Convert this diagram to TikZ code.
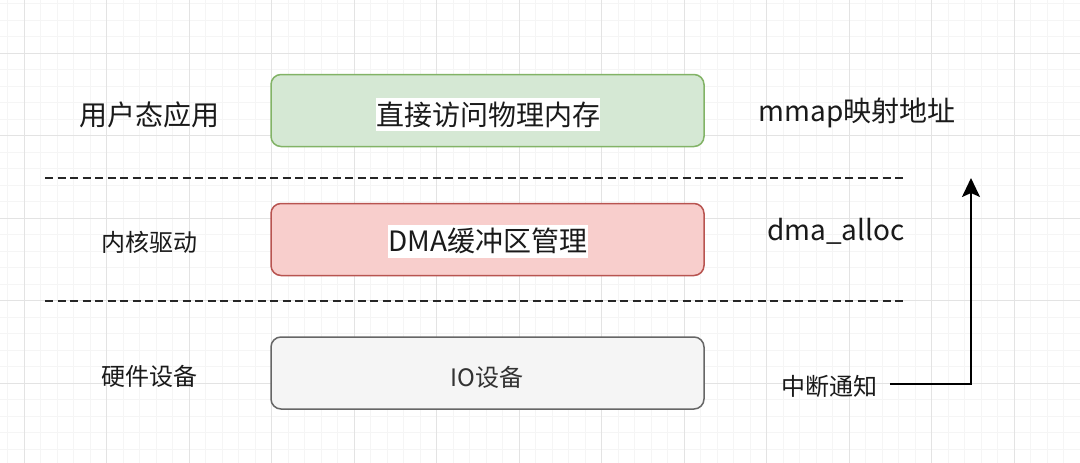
\documentclass[tikz,border=0pt]{standalone}
\usepackage{fontspec}
\setmainfont{Noto Sans CJK SC}
\usetikzlibrary{arrows.meta}
\definecolor{txt}{HTML}{1A1A1A}
\definecolor{gfill}{HTML}{D5E8D4}
\definecolor{gline}{HTML}{82B366}
\definecolor{rfill}{HTML}{F8CECC}
\definecolor{rline}{HTML}{B85450}
\definecolor{hfill}{HTML}{F5F5F5}
\definecolor{hline}{HTML}{666666}
\definecolor{gridmaj}{HTML}{E3E3E3}
\definecolor{gridmin}{HTML}{F5F5F5}
\tikzset{
  layerbox/.style={draw, line width=1.5pt, rounded corners=10pt, minimum width=433pt, minimum height=72pt, inner sep=0pt},
  bigtxt/.style={font=\fontsize{28}{33}\selectfont, text=txt, inner sep=0pt},
  midtxt/.style={font=\fontsize{24}{29}\selectfont, text=txt, inner sep=0pt},
  hlbg/.style={fill=white, inner sep=0pt, minimum height=33pt},
  sepline/.style={draw=black!85, line width=2pt, dash pattern=on 8pt off 4.5pt},
  arrowline/.style={draw=black, line width=2pt, -{Stealth[length=19pt, width=18pt, inset=4pt]}},
}
\begin{document}
\begin{tikzpicture}[x=1pt, y=-1pt]
\useasboundingbox (0,0) rectangle (1080,463);
\fill[white] (0,0) rectangle (1080,463);
\begin{scope}
\clip (0,0) rectangle (1080,463);
\foreach \i in {0,...,65} \draw[gridmin, line width=0.8pt] ({7.5+16.5*\i},0) -- ({7.5+16.5*\i},463);
\foreach \i in {0,...,28} \draw[gridmin, line width=0.8pt] (0,{3.5+16.5*\i}) -- (1080,{3.5+16.5*\i});
\foreach \i in {0,...,12} \draw[gridmaj, line width=1pt] ({24+82.5*\i},0) -- ({24+82.5*\i},463);
\foreach \i in {0,...,4} \draw[gridmaj, line width=1pt] (0,{53+82.5*\i}) -- (1080,{53+82.5*\i});
\end{scope}

% layer boxes
\node[layerbox, draw=gline, fill=gfill] (app) at (487.5,110.5) {};
\node[layerbox, draw=rline, fill=rfill] (drv) at (487.5,239.5) {};
\node[layerbox, draw=hline, fill=hfill] (dev) at (487.5,373) {};

% box texts
\node[bigtxt, hlbg] (apptxt) at (488,114.5) {直接访问物理内存};
\node[bigtxt, hlbg] (drvtxt) at (488,241) {DMA缓冲区管理};
\node[midtxt, text=black!80] (devtxt) at (487,377) {IO设备};

% left labels
\node[bigtxt] (lapp) at (149,115) {用户态应用};
\node[midtxt] (ldrv) at (149,242) {内核驱动};
\node[midtxt] (ldev) at (149,376) {硬件设备};

% right labels
\node[bigtxt] (rmmap) at (857,113) {mmap映射地址};
\node[bigtxt] (rdma) at (836,231) {dma\_alloc};
\node[midtxt] (rirq) at (829,386) {中断通知};

% separators
\coordinate (s1l) at (45,178);
\coordinate (s1r) at (905,178);
\coordinate (s2l) at (45,301);
\coordinate (s2r) at (905,301);
\draw[sepline] (s1l) -- (s1r);
\draw[sepline] (s2l) -- (s2r);

% arrow
\coordinate (astart) at (890,384);
\coordinate (acorner) at (971,384);
\coordinate (aend) at (971,178);
\draw[arrowline] (astart) -- (acorner) -- (aend);
\end{tikzpicture}
\end{document}
